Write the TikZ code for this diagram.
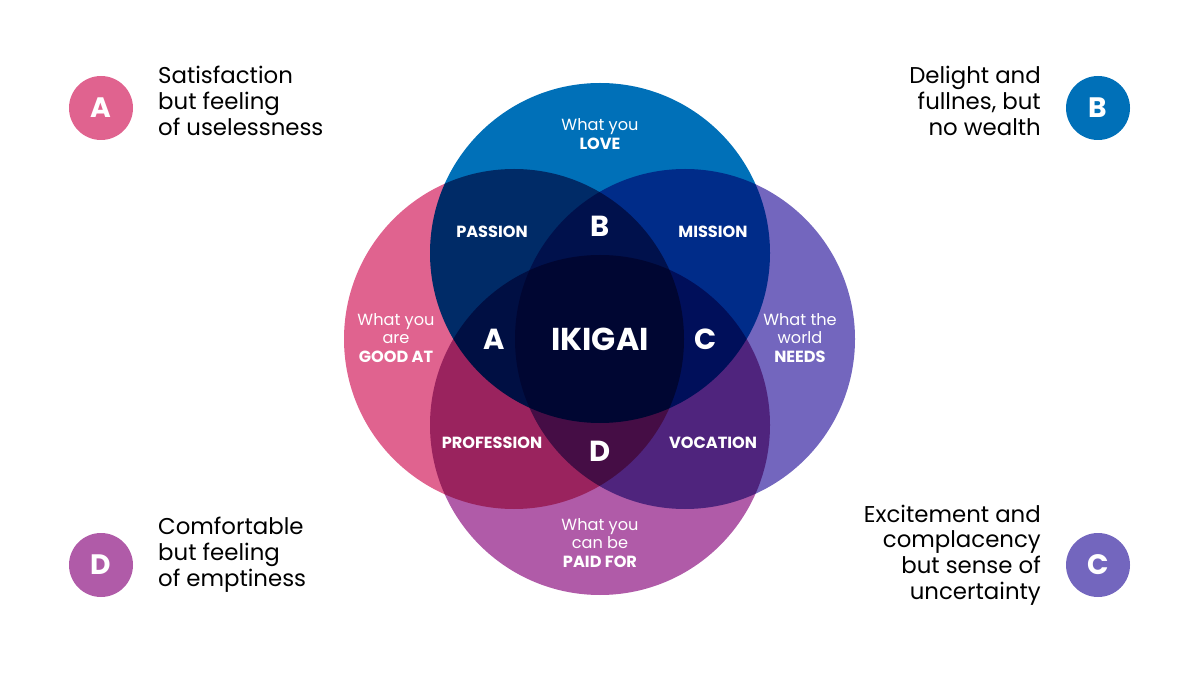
\documentclass[tikz,border=0pt]{standalone}
\usepackage{fontspec}
\setmainfont{Poppins}
\tikzset{
  ring/.style = {blend mode=multiply},
  badge/.style = {shape=circle,minimum size=64\pxu,text=white,font=\fontsize{16}{16}\selectfont\bfseries},
  note/.style = {font=\fontsize{13}{14.7}\selectfont,text=black},
  small/.style = {font=\fontsize{9.2}{10.5}\selectfont,text=white,align=center},
  zone/.style = {font=\fontsize{9.2}{10}\selectfont\bfseries,text=white},
  letter/.style = {font=\fontsize{16.5}{16.5}\selectfont\bfseries,text=white}
}
\newlength{\pxu}\setlength{\pxu}{0.02cm}
\definecolor{cLove}{RGB}{0,112,184}
\definecolor{cGood}{RGB}{224,99,143}
\definecolor{cNeeds}{RGB}{115,102,190}
\definecolor{cPaid}{RGB}{176,91,168}
\begin{document}
\begin{tikzpicture}[x=0.02cm,y=-0.02cm]
\useasboundingbox (0,0) rectangle (1200,675);
% the four circles
\begin{scope}[transparency group]
  \fill[cLove,ring] (600,253) circle[radius=170\pxu];
  \fill[cGood,ring] (514,339) circle[radius=170\pxu];
  \fill[cNeeds,ring] (685,339) circle[radius=170\pxu];
  \fill[cPaid,ring] (600,425) circle[radius=170\pxu];
\end{scope}
% circle texts
\node[small] (love) at (600,134) {What you\\\textbf{LOVE}};
\node[small] (good) at (396,338) {What you\\are\\\textbf{GOOD AT}};
\node[small] (needs) at (800,338) {What the\\world\\\textbf{NEEDS}};
\node[small] (paid) at (600,543) {What you\\can be\\\textbf{PAID FOR}};
\node[zone] (passion) at (492,232) {PASSION};
\node[zone] (mission) at (713,232) {MISSION};
\node[zone] (profession) at (492,443) {PROFESSION};
\node[zone] (vocation) at (713,443) {VOCATION};
\node[letter] (lb) at (600,226) {B};
\node[letter] (la) at (494,339) {A};
\node[letter] (lc) at (706,339) {C};
\node[letter] (ld) at (600,451) {D};
\node[font=\fontsize{18}{18}\selectfont\bfseries,text=white] (ikigai) at (600,339) {IKIGAI};
% side notes
\node[badge,fill=cGood] (ba) at (101,108) {A};
\node[note,anchor=west,align=left] (na) at (152,101) {Satisfaction\\but feeling\\of uselessness};
\node[badge,fill=cLove] (bb) at (1098,108) {B};
\node[note,anchor=east,align=right] (nb) at (1047,101) {Delight and\\fullnes, but\\no wealth};
\node[badge,fill=cPaid] (bd) at (101,565) {D};
\node[note,anchor=west,align=left] (nd) at (152,555) {Comfortable\\but feeling\\of emptiness};
\node[badge,fill=cNeeds] (bc) at (1098,565) {C};
\node[note,anchor=east,align=right] (nc) at (1047,555) {Excitement and\\complacency\\but sense of\\uncertainty};
\end{tikzpicture}
\end{document}
